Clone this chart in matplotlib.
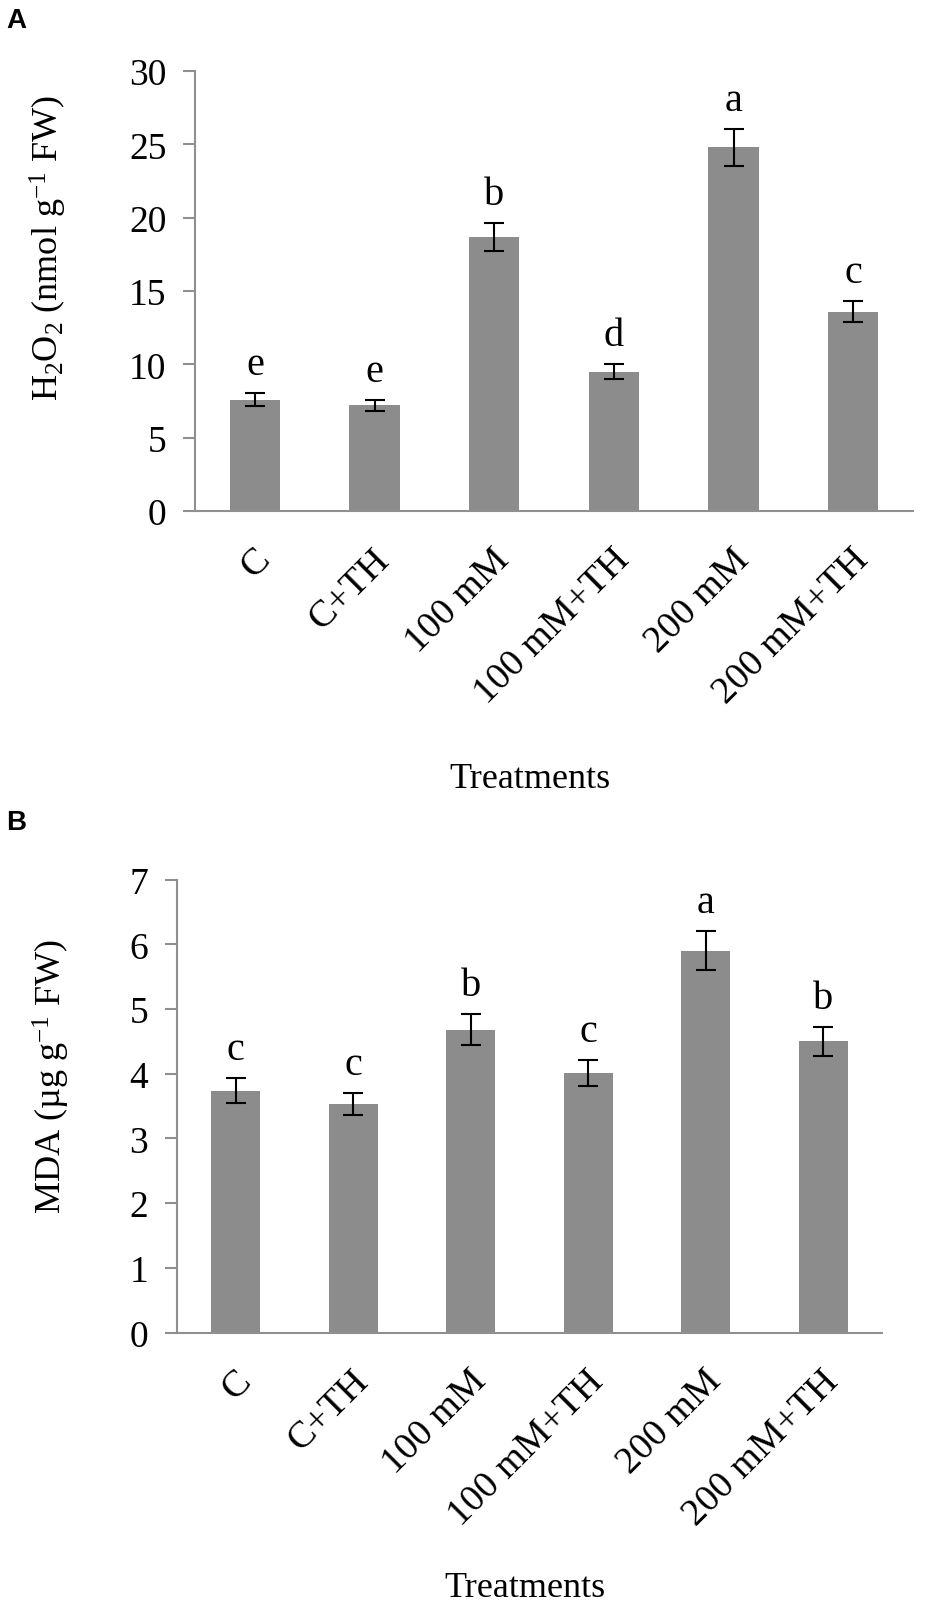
import numpy as np
import matplotlib
matplotlib.use("Agg")
import matplotlib.pyplot as plt
import matplotlib.transforms as mtransforms

plt.rcParams["font.family"] = ["Liberation Serif", "DejaVu Serif"]
plt.rcParams["mathtext.fontset"] = "custom"
plt.rcParams["mathtext.rm"] = "Liberation Serif"
plt.rcParams["mathtext.it"] = "Liberation Serif:italic"

treatments = ["C", "C+TH", "100 mM", "100 mM+TH", "200 mM", "200 mM+TH"]

h2o2 = [7.6, 7.2, 18.7, 9.5, 24.8, 13.6]
h2o2_err = [0.42, 0.36, 0.94, 0.5, 1.25, 0.7]
h2o2_letters = ["e", "e", "b", "d", "a", "c"]

mda = [3.74, 3.53, 4.68, 4.01, 5.9, 4.5]
mda_err = [0.19, 0.17, 0.24, 0.2, 0.3, 0.22]
mda_letters = ["c", "c", "b", "c", "a", "b"]

bar_col = "#8c8c8c"
axis_col = "#8f8f8f"

fig = plt.figure(figsize=(9.31, 16.15), dpi=100)

ax1 = fig.add_axes([0.2095, 0.6830, 0.7712, 0.2724])
ax2 = fig.add_axes([0.1901, 0.1743, 0.7572, 0.2804])


def draw_panel(ax, vals, errs, letters, ymax, ylabel, lab_x, lab_y, tr_x, tr_y):
    x = np.arange(len(treatments))
    ax.bar(x, vals, width=0.42, color=bar_col, zorder=2)
    ax.errorbar(x, vals, yerr=errs, fmt="none", ecolor="black",
                elinewidth=1.5, capsize=7, capthick=1.5, zorder=3)
    for xi, v, e, l in zip(x, vals, errs, letters):
        ax.annotate(l, (xi, v + e), xytext=(0, 14), textcoords="offset points",
                    ha="center", va="baseline", fontsize=29)
    ax.set_xlim(-0.5, len(treatments) - 0.5)
    ax.set_ylim(0, ymax)
    ax.spines["top"].set_visible(False)
    ax.spines["right"].set_visible(False)
    for s in ["left", "bottom"]:
        ax.spines[s].set_color(axis_col)
        ax.spines[s].set_linewidth(1.5)
    ax.tick_params(axis="y", direction="out", length=8.6, width=1.5,
                   color=axis_col, labelsize=27, pad=12)
    ax.tick_params(axis="x", length=0, labelsize=27.5, pad=20)
    ax.set_xticks(x)
    ax.set_xticklabels(treatments, rotation=45, ha="right", va="top")
    shift = mtransforms.ScaledTranslation(16 / 72, -2 / 72, fig.dpi_scale_trans)
    for lbl in ax.get_xticklabels():
        lbl.set_transform(lbl.get_transform() + shift)
    ax.set_ylabel(ylabel, fontsize=26)
    ax.yaxis.set_label_coords(lab_x, lab_y)
    ax.text(tr_x, tr_y, "Treatments", transform=ax.transAxes,
            ha="center", va="baseline", fontsize=26)


draw_panel(ax1, h2o2, h2o2_err, h2o2_letters, 30,
           r"$\mathregular{H_2O_2}$ (nmol g$^{\mathregular{-1}}$ FW)",
           -0.1755, 0.60, 0.4666, -0.627)
ax1.set_yticks(np.arange(0, 31, 5))

draw_panel(ax2, mda, mda_err, mda_letters, 7,
           r"MDA (µg g$^{\mathregular{-1}}$ FW)",
           -0.149, 0.567, 0.4936, -0.581)
ax2.set_yticks(np.arange(0, 8, 1))

fig.text(6 / 931, 1 - 28 / 1615, "A", family="Liberation Sans",
         fontweight="bold", fontsize=20, ha="left", va="baseline")
fig.text(6 / 931, 1 - 830 / 1615, "B", family="Liberation Sans",
         fontweight="bold", fontsize=20, ha="left", va="baseline")

fig.savefig("out.png", dpi=100)
